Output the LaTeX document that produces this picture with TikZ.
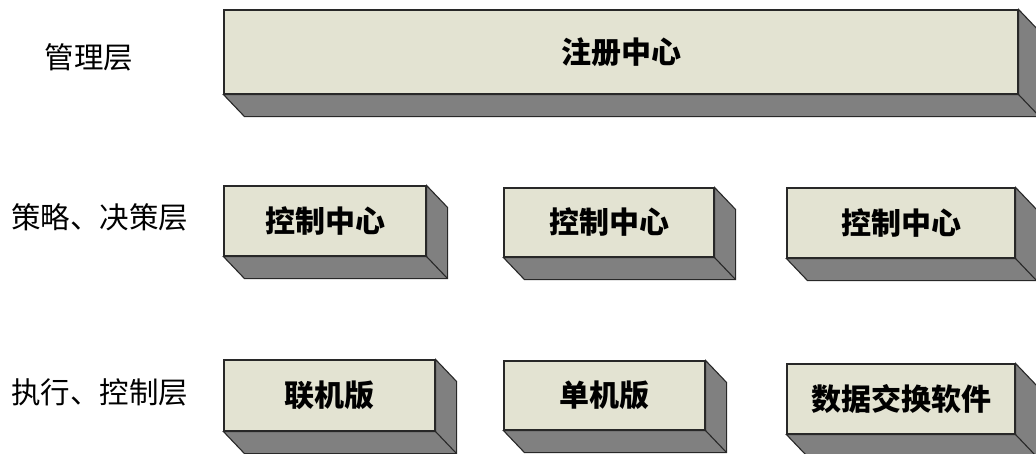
\documentclass[tikz,border=0pt]{standalone}
\usepackage{fontspec}
\newfontfamily\cjk{Noto Sans CJK SC}
\definecolor{facecol}{RGB}{227,227,210}
\definecolor{depthcol}{RGB}{128,128,128}
\definecolor{edgecol}{RGB}{40,40,40}
\tikzset{
    slab/.style={draw=edgecol, fill=facecol, line width=1.1pt, inner sep=0pt,
        font=\cjk\bfseries\fontsize{30}{32}\selectfont},
    depth/.style={draw=edgecol, fill=depthcol, line width=1.1pt, line join=miter},
    layer/.style={font=\cjk\fontsize{29.5}{32}\selectfont}
}
\begin{document}
\begin{tikzpicture}[x=1pt, y=-1pt]

            \def \dx{21};
            \def \dy{22};

            \useasboundingbox (0,0) rectangle (1036,453);
            \fill[white] (0,0) rectangle (1036,453);

            % layer names
            \node (lmgr) at (89,57) [layer] {管理层};
            \node (lpol) at (100,217) [layer] {策略、决策层};
            \node (lexe) at (100,392) [layer] {执行、控制层};

            % boxes
            \node (reg) at (621,52) [slab, minimum width=794, minimum height=84] {注册中心};
            \node (c1) at (325,221) [slab, minimum width=202, minimum height=70] {控制中心};
            \node (c2) at (609,222.5) [slab, minimum width=210, minimum height=69] {控制中心};
            \node (c3) at (901,223) [slab, minimum width=228, minimum height=70] {控制中心};
            \node (e1) at (329.5,395.5) [slab, minimum width=211, minimum height=71] {联机版};
            \node (e2) at (604.5,395.5) [slab, minimum width=201, minimum height=69] {单机版};
            \node (e3) at (901,399) [slab, minimum width=228, minimum height=70] {数据交换软件};

            % depth faces
            \foreach \n in {reg,c1,c2,c3,e1,e2,e3} {
                \draw[depth] (\n.south west) -- ([shift={(\dx,\dy)}]\n.south west)
                    -- ([shift={(\dx,\dy)}]\n.south east) -- ([shift={(\dx,\dy)}]\n.north east)
                    -- (\n.north east) -- (\n.south east) -- cycle;
                \draw[edgecol, line width=1.1pt] (\n.south east) -- ([shift={(\dx,\dy)}]\n.south east);
            }

            \end{tikzpicture}
\end{document}
